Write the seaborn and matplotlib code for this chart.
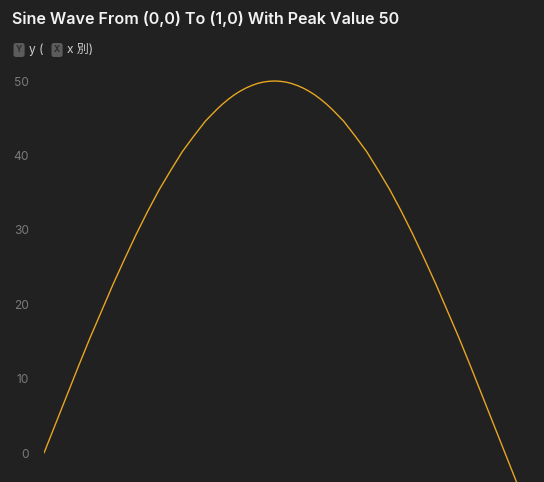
import numpy as np
import pandas as pd
import matplotlib
matplotlib.use('Agg')
import matplotlib.pyplot as plt
import seaborn as sns

# values (denser around the peak)
x_values = [0.000, 0.025, 0.050, 0.075, 0.100, 0.125, 0.150, 0.175, 0.200, 0.225,
            0.250, 0.275, 0.300, 0.325, 0.3375, 0.350, 0.3625, 0.375, 0.3875, 0.400,
            0.4125, 0.425, 0.4375, 0.450, 0.4625, 0.475, 0.4875, 0.500, 0.5125, 0.525,
            0.5375, 0.550, 0.5625, 0.575, 0.5875, 0.600, 0.6125, 0.625, 0.6375, 0.650,
            0.6625, 0.675, 0.700, 0.725, 0.750, 0.775, 0.800, 0.825, 0.850, 0.875,
            0.900, 0.925, 0.950, 0.975, 1.000, 1.025, 1.050]
y_values = [0.0, 3.9, 7.8, 11.7, 15.5, 19.1, 22.7, 26.1, 29.4, 32.5,
            35.4, 38.0, 40.5, 42.6, 43.6, 44.6, 45.4, 46.19, 46.91, 47.55,
            48.13, 48.62, 49.04, 49.38, 49.66, 49.85, 49.96, 50.0, 49.96, 49.85,
            49.66, 49.38, 49.04, 48.62, 48.13, 47.55, 46.91, 46.19, 45.4, 44.6,
            43.6, 42.6, 40.5, 38.0, 35.4, 32.5, 29.4, 26.1, 22.7, 19.1,
            15.5, 11.7, 7.8, 3.9, 0.0, -3.9, -7.8]
y_ticks = [0, 10, 20, 30, 40, 50]

title = 'Sine Wave From (0,0) To (1,0) With Peak Value 50'

W, H = 544, 482
bg = '#212121'

sns.set_theme(style='dark')
plt.rcParams['font.family'] = ['Inter', 'Noto Sans CJK JP', 'DejaVu Sans']

df = pd.DataFrame({'x': x_values, 'y': y_values})

fig = plt.figure(figsize=(W / 100, H / 100), dpi=100, facecolor=bg)
ax = fig.add_axes([44 / W, 0, 1 - 44 / W, (H - 70) / H])
ax.set_facecolor(bg)

sns.lineplot(data=df, x='x', y='y', ax=ax, color='#e6a622', linewidth=1.0,
             sort=False)

ax.set_xlim(0, 500 / 461)
ax.set_ylim(-(482 - 453) / 7.44, 50 + 11 / 7.44)
ax.set_yticks(y_ticks)
ax.set_yticklabels([str(t) for t in y_ticks])
ax.set_xticks([])
ax.tick_params(axis='y', colors='#7a7a7a', labelsize=8.6, length=0, pad=11)
ax.set_xlabel('')
ax.set_ylabel('')
ax.grid(False)
for s in ax.spines.values():
    s.set_visible(False)

def px(x, y):
    return x / W, 1 - y / H

fig.text(*px(12, 19), title, color='#f2f2f2', fontsize=11.6,
         fontweight='semibold', va='center', ha='left')

badge = dict(boxstyle='round,pad=0.3,rounding_size=0.3', facecolor='#5c5c5c',
             edgecolor='none')
fig.text(*px(16, 50), 'Y', color='#2c2c2c', fontsize=6, fontweight='bold',
         va='center', ha='left', bbox=badge)
fig.text(*px(29, 50), 'y (', color='#cfcfcf', fontsize=8.6, va='center', ha='left')
fig.text(*px(54, 50), 'X', color='#2c2c2c', fontsize=6, fontweight='bold',
         va='center', ha='left', bbox=badge)
fig.text(*px(67, 50), 'x 別)', color='#cfcfcf', fontsize=8.6, va='center', ha='left')

fig.savefig('out.png', dpi=100, facecolor=bg)
